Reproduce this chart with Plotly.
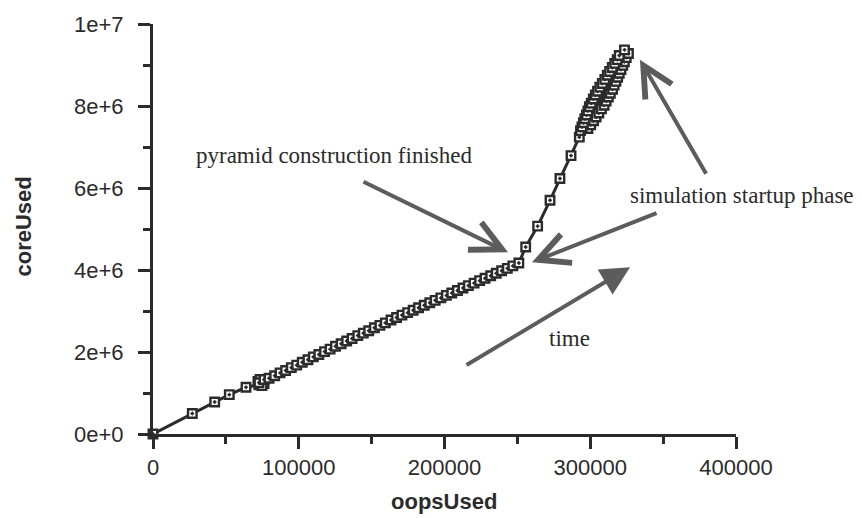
import plotly.graph_objects as go

# Memory growth samples: oops allocated vs. core bytes used
# pyramid construction phase
build_oops = [0, 26960, 42330, 52350, 63810,
              72700, 75500, 72000, 76200, 73400, 74800, 72700, 76200,
              79600, 83500, 87200, 91000, 94900, 98600, 102400, 106300, 110000,
              113800, 117700, 121500, 125200, 129100, 132900, 136600, 140500,
              144300, 148000, 151900, 155700, 159400, 163300, 167100, 170800,
              174700, 178500, 182200, 186100, 189900, 193600, 197500, 201300,
              205000, 208900, 212700, 216400, 220300, 224100, 227800, 231700,
              235500, 239200, 243100, 246900, 251000]
build_core = [0.00e6, 0.50e6, 0.78e6, 0.96e6, 1.14e6,
              1.20e6, 1.30e6, 1.28e6, 1.23e6, 1.33e6, 1.18e6, 1.25e6, 1.33e6,
              1.36e6, 1.42e6, 1.49e6, 1.55e6, 1.62e6, 1.68e6, 1.75e6, 1.81e6, 1.88e6,
              1.94e6, 2.01e6, 2.07e6, 2.14e6, 2.20e6, 2.27e6, 2.33e6, 2.40e6,
              2.46e6, 2.52e6, 2.59e6, 2.65e6, 2.71e6, 2.78e6, 2.84e6, 2.90e6,
              2.96e6, 3.02e6, 3.08e6, 3.14e6, 3.20e6, 3.26e6, 3.32e6, 3.38e6,
              3.44e6, 3.50e6, 3.56e6, 3.62e6, 3.68e6, 3.74e6, 3.80e6, 3.86e6,
              3.92e6, 3.98e6, 4.04e6, 4.10e6, 4.17e6]

# simulation startup phase
sim_oops = [255700, 263900, 272400, 279200, 286800, 292500,
            293300, 298400, 294300, 300300, 295300, 302200, 296300, 304000,
            297400, 305900, 298400, 307700, 299400, 309500, 300700, 310900,
            302100, 312400, 303500, 313800, 305000, 315300, 306600, 316400,
            308300, 317600, 310000, 318800, 311700, 319900, 313300, 321100,
            315100, 322300, 316800, 323400, 318500, 324700, 319900, 326200,
            323500]
sim_core = [4.56e6, 5.07e6, 5.70e6, 6.23e6, 6.79e6, 7.24e6,
            7.40e6, 7.45e6, 7.49e6, 7.54e6, 7.59e6, 7.64e6, 7.69e6, 7.73e6,
            7.78e6, 7.83e6, 7.88e6, 7.93e6, 7.98e6, 8.02e6, 8.07e6, 8.12e6,
            8.17e6, 8.22e6, 8.27e6, 8.31e6, 8.36e6, 8.41e6, 8.46e6, 8.51e6,
            8.55e6, 8.60e6, 8.65e6, 8.70e6, 8.75e6, 8.80e6, 8.84e6, 8.89e6,
            8.94e6, 8.99e6, 9.04e6, 9.08e6, 9.13e6, 9.18e6, 9.23e6, 9.28e6,
            9.37e6]

x_ticks = [0, 100000, 200000, 300000, 400000]
x_tick_labels = ["0", "100000", "200000", "300000", "400000"]
y_ticks = [0, 2e6, 4e6, 6e6, 8e6, 1e7]
y_tick_labels = ["0e+0", "2e+6", "4e+6", "6e+6", "8e+6", "1e+7"]

oops_used = build_oops + sim_oops
core_used = build_core + sim_core

INK = "#2b2b2b"
ARROW = "#5c5c5c"
SANS = "Liberation Sans, Arial, sans-serif"
SERIF = "Liberation Serif, Times New Roman, serif"

# plot area in pixels: left 153, right 736, top 19, bottom 434
PL, PR, PT, PB = 153, 736, 19, 434


def px_to_paper(px, py):
    return (px - PL) / (PR - PL), (PB - py) / (PB - PT)


fig = go.Figure()
fig.add_trace(go.Scatter(
    x=oops_used, y=core_used,
    mode="lines+markers",
    line=dict(color=INK, width=3),
    marker=dict(symbol="square-dot", size=8.5, color="white",
                line=dict(color=INK, width=2.4)),
    cliponaxis=False,
    showlegend=False,
))

# text labels
notes = [
    ("pyramid construction finished", 334, 152),
    ("simulation startup phase", 742, 193),
    ("time", 569, 337),
]
for text, nx, ny in notes:
    ax_, ay_ = px_to_paper(nx, ny)
    fig.add_annotation(text=text, xref="paper", yref="paper", x=ax_, y=ay_,
                       showarrow=False, xanchor="center", yanchor="middle",
                       font=dict(family=SERIF, size=23, color=INK))

# pointer arrows: (tail x, tail y, tip x, tip y, head style)
arrows = [
    (143400, 6.17e6, 243600, 4.43e6, 5),
    (346500, 5.40e6, 260000, 4.19e6, 5),
    (380100, 6.31e6, 334100, 9.13e6, 5),
    (214100, 1.66e6, 327300, 4.07e6, 2),
]
for tx, ty, hx, hy, head in arrows:
    fig.add_annotation(x=hx, y=hy, ax=tx, ay=ty, xref="x", yref="y",
                       axref="x", ayref="y", text="", showarrow=True,
                       arrowhead=head, arrowsize=1.5 if head == 5 else 1.45,
                       arrowwidth=4, arrowcolor=ARROW)

# axis titles
tx_, ty_ = px_to_paper(444, 502)
fig.add_annotation(text="<b>oopsUsed</b>", xref="paper", yref="paper",
                   x=tx_, y=ty_, showarrow=False, xanchor="center",
                   yanchor="middle", font=dict(family=SANS, size=22, color=INK))
tx_, ty_ = px_to_paper(24, 224)
fig.add_annotation(text="<b>coreUsed</b>", xref="paper", yref="paper",
                   x=tx_, y=ty_, showarrow=False, textangle=-90,
                   xanchor="center", yanchor="middle",
                   font=dict(family=SANS, size=22, color=INK))

fig.update_layout(
    width=862, height=518,
    margin=dict(l=PL, r=862 - PR, t=PT, b=518 - PB),
    paper_bgcolor="white", plot_bgcolor="white",
    font=dict(family=SANS, size=22, color=INK),
)
fig.update_xaxes(
    range=[0, 400000], tickvals=x_ticks, ticktext=x_tick_labels,
    showgrid=False, zeroline=False, showline=True, linecolor=INK, linewidth=3,
    ticks="outside", ticklen=12, tickwidth=3, tickcolor=INK,
    minor=dict(ticks="outside", ticklen=7, tickwidth=3, tickcolor=INK,
               dtick=50000, tick0=0, showgrid=False),
)
fig.update_yaxes(
    range=[0, 1e7], tickvals=y_ticks, ticktext=y_tick_labels,
    showgrid=False, zeroline=False, showline=True, linecolor=INK, linewidth=3,
    ticks="outside", ticklen=12, tickwidth=3, tickcolor=INK,
    ticklabelstandoff=10,
    minor=dict(ticks="outside", ticklen=7, tickwidth=3, tickcolor=INK,
               dtick=1e6, tick0=0, showgrid=False),
)

fig.write_html("out.html")
